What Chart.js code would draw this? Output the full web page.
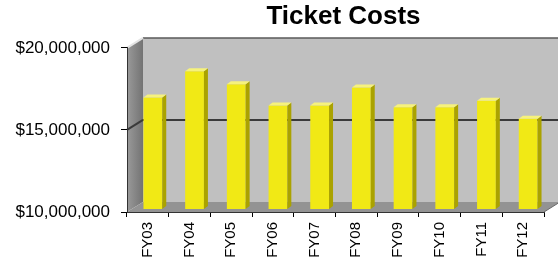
<!DOCTYPE html>
<html>
<head>
<meta charset="utf-8">
<script src="https://cdn.jsdelivr.net/npm/chart.js@4/dist/chart.umd.min.js"></script>
<style>
  html, body { margin: 0; padding: 0; background: #fff; }
  #wrap { width: 558px; height: 273px; }
</style>
</head>
<body>
<div id="wrap"><canvas id="chart-costs"></canvas></div>
<script>
// Data
var fiscalYears = ['FY03', 'FY04', 'FY05', 'FY06', 'FY07', 'FY08', 'FY09', 'FY10', 'FY11', 'FY12'];
var ticketCosts = [16800000, 18400000, 17600000, 16300000, 16300000, 17400000, 16200000, 16200000, 16600000, 15500000];
var costTicks = [10000000, 15000000, 20000000];

var FONT = 'Arial, "Liberation Sans", Helvetica, sans-serif';

// fake 3D: walls pushed back, bars sit a bit behind the front axis
var wallOff = { dx: 16, dy: -10 };
var barOff = { dx: 5, dy: -3 };
var barDepth = { dx: 4, dy: -3 };

function poly(ctx, pts, fill) {
    ctx.beginPath();
    ctx.moveTo(pts[0][0], pts[0][1]);
    for (var i = 1; i < pts.length; i++) ctx.lineTo(pts[i][0], pts[i][1]);
    ctx.closePath();
    ctx.fillStyle = fill;
    ctx.fill();
}

function line(ctx, x1, y1, x2, y2, color, w) {
    ctx.beginPath();
    ctx.moveTo(x1, y1);
    ctx.lineTo(x2, y2);
    ctx.strokeStyle = color;
    ctx.lineWidth = w;
    ctx.stroke();
}

var walls3d = {
    id: 'walls3d',
    afterLayout: function (chart) {
        // centre the title over the plot, like the original
        var a = chart.chartArea, t = chart.titleBlock;
        var shift = (a.left + a.right) / 2 + 8 - (t.left + t.right) / 2;
        t.left += shift;
        t.right += shift;
    },
    beforeDraw: function (chart) {
        var ctx = chart.ctx, a = chart.chartArea, y = chart.scales.y;
        var dx = wallOff.dx, dy = wallOff.dy;
        ctx.save();
        // back wall
        poly(ctx, [[a.left + dx, a.top + dy], [a.right + dx, a.top + dy],
                   [a.right + dx, a.bottom + dy], [a.left + dx, a.bottom + dy]], '#c0c0c0');
        // left side wall
        var g = ctx.createLinearGradient(a.left, 0, a.left + dx, 0);
        g.addColorStop(0, '#9a9a9a');
        g.addColorStop(1, '#737373');
        poly(ctx, [[a.left, a.top], [a.left + dx, a.top + dy],
                   [a.left + dx, a.bottom + dy], [a.left, a.bottom]], g);
        // floor
        poly(ctx, [[a.left, a.bottom], [a.left + dx, a.bottom + dy],
                   [a.right + dx, a.bottom + dy], [a.right, a.bottom]], '#939393');
        // gridlines on walls
        costTicks.forEach(function (v) {
            if (v === costTicks[0]) return;
            var py = y.getPixelForValue(v);
            if (v === costTicks[costTicks.length - 1]) {
                line(ctx, a.left + dx, py + dy, a.right + dx, py + dy, '#5a5a5a', 1.5);
                line(ctx, a.left, py, a.left + dx, py + dy, '#e4e4e4', 2);
            } else {
                line(ctx, a.left + dx, py + dy, a.right + dx, py + dy, '#3a3a3a', 2);
                line(ctx, a.left, py, a.left + dx, py + dy, '#3a3a3a', 2);
            }
        });
        // right floor edge
        line(ctx, a.right, a.bottom, a.right + dx, a.bottom + dy, '#6a6a6a', 1);
        ctx.restore();
    },
    beforeDatasetsDraw: function (chart) {
        chart.ctx.save();
        chart.ctx.translate(barOff.dx, barOff.dy);
    },
    afterDatasetsDraw: function (chart) {
        var ctx = chart.ctx, a = chart.chartArea;
        var meta = chart.getDatasetMeta(0);
        meta.data.forEach(function (bar) {
            var l = bar.x - bar.width / 2, r = bar.x + bar.width / 2;
            var base = Math.min(bar.base, a.bottom);
            // side face
            poly(ctx, [[r, bar.y], [r + barDepth.dx, bar.y + barDepth.dy],
                       [r + barDepth.dx, base + barDepth.dy], [r, base]], '#aaa200');
            // top face
            poly(ctx, [[l, bar.y], [l + barDepth.dx, bar.y + barDepth.dy],
                       [r + barDepth.dx, bar.y + barDepth.dy], [r, bar.y]], '#f6f27c');
        });
        ctx.restore();
    }
};

new Chart(document.getElementById('chart-costs'), {
    type: 'bar',
    data: {
        labels: fiscalYears,
        datasets: [{
            label: 'Ticket Costs',
            data: ticketCosts,
            backgroundColor: '#f1e915',
            borderWidth: 0,
            categoryPercentage: 1,
            barPercentage: 0.45
        }]
    },
    options: {
        responsive: true,
        maintainAspectRatio: false,
        animation: false,
        devicePixelRatio: 1,
        layout: { padding: { left: 0, right: 14, top: 0, bottom: 0 } },
        plugins: {
            legend: { display: false },
            tooltip: { enabled: false },
            title: {
                display: true,
                text: 'Ticket Costs',
                color: '#000',
                font: { family: FONT, size: 26, weight: 'bold', lineHeight: 1.15 },
                padding: { top: 2, bottom: 16 }
            }
        },
        scales: {
            x: {
                grid: { display: true, drawOnChartArea: false, drawTicks: true, tickLength: 5, color: '#000', offset: true },
                border: { display: true, color: '#333', width: 1 },
                ticks: {
                    color: '#000',
                    font: { family: FONT, size: 15 },
                    minRotation: 90,
                    maxRotation: 90,
                    autoSkip: false,
                    padding: 5
                },
                afterFit: function (scale) { scale.height = 61; }
            },
            y: {
                min: costTicks[0],
                max: costTicks[costTicks.length - 1],
                grid: { display: true, drawOnChartArea: false, drawTicks: true, tickLength: 6, color: '#000' },
                border: { display: true, color: '#333', width: 1 },
                ticks: {
                    color: '#000',
                    font: { family: FONT, size: 17 },
                    padding: 11,
                    callback: function (v) { return '$' + Number(v).toLocaleString('en-US'); }
                },
                afterBuildTicks: function (scale) {
                    scale.ticks = costTicks.map(function (v) { return { value: v }; });
                },
                afterFit: function (scale) { scale.width = 127; }
            }
        }
    },
    plugins: [walls3d]
});
</script>
</body>
</html>
